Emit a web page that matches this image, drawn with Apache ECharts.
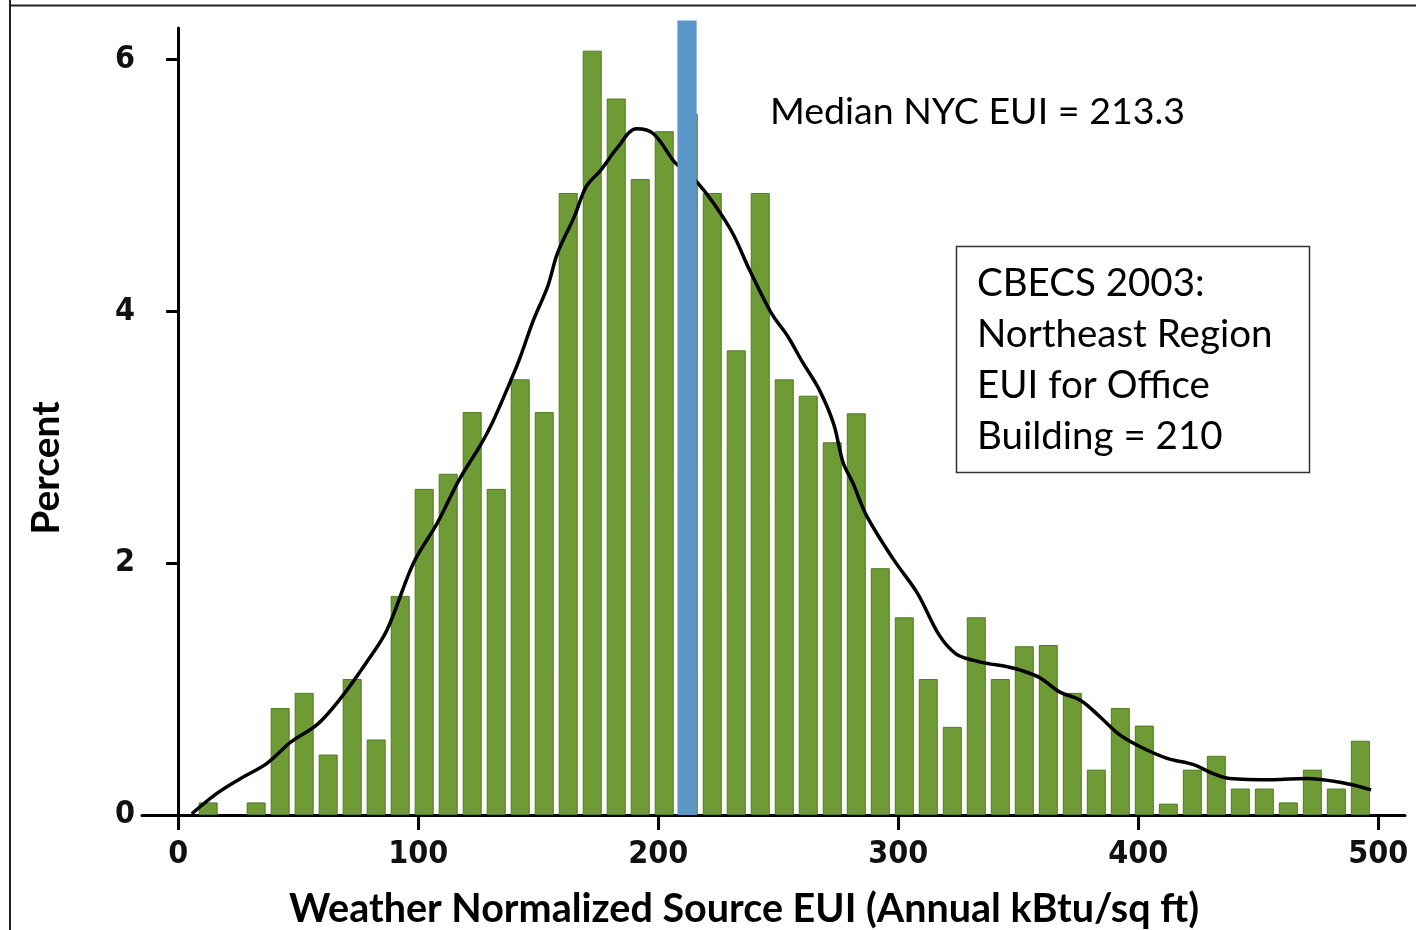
<!DOCTYPE html>
<html lang="en">

<head>
    <meta charset="UTF-8">
    <title>Weather Normalized Source EUI</title>
    <script src="https://cdn.jsdelivr.net/npm/echarts@6.0.0/dist/echarts.min.js"></script>
    <style>
        html, body { margin: 0; padding: 0; background: #fff; }
        #chart { width: 1416px; height: 930px; }
    </style>
</head>

<body>
    <div id="chart"></div>

    <script>
        // histogram bins (bar centres, kBtu/sq ft) and their share of buildings (%)
        const binCenters = [12.5, 22.5, 32.5, 42.5, 52.5, 62.5, 72.5, 82.5, 92.5, 102.5,
            112.5, 122.5, 132.5, 142.5, 152.5, 162.5, 172.5, 182.5, 192.5, 202.5,
            212.5, 222.5, 232.5, 242.5, 252.5, 262.5, 272.5, 282.5, 292.5, 302.5,
            312.5, 322.5, 332.5, 342.5, 352.5, 362.5, 372.5, 382.5, 392.5, 402.5,
            412.5, 422.5, 432.5, 442.5, 452.5, 462.5, 472.5, 482.5, 492.5];
        const binPercent = [0.10, 0, 0.10, 0.85, 0.97, 0.48, 1.08, 0.60, 1.74, 2.59,
            2.71, 3.20, 2.59, 3.46, 3.20, 4.94, 6.07, 5.69, 5.05, 5.43,
            5.57, 4.94, 3.69, 4.94, 3.46, 3.33, 2.96, 3.19, 1.96, 1.57,
            1.08, 0.70, 1.57, 1.08, 1.34, 1.35, 0.97, 0.36, 0.85, 0.71,
            0.09, 0.36, 0.47, 0.21, 0.21, 0.10, 0.36, 0.21, 0.59];

        // smoothed density curve
        const curveX = [5.7, 16, 26, 37, 47, 58, 67, 78, 87, 98, 108, 117, 126, 131, 137, 142, 148, 154,
            158, 165, 170, 176, 183, 191, 198, 207, 211, 216, 223, 231, 238, 247, 254, 260, 267, 273,
            277, 281, 287, 298, 308, 317, 324, 331, 338, 345, 351, 359, 367, 376, 384, 392, 401, 412,
            423, 431, 438, 456, 470, 484, 497];
        const curveY = [0.01, 0.17, 0.29, 0.41, 0.58, 0.72, 0.91, 1.20, 1.47, 2.00, 2.32, 2.66, 2.94, 3.12,
            3.38, 3.61, 3.93, 4.20, 4.46, 4.75, 4.99, 5.12, 5.30, 5.45, 5.41, 5.18, 5.12, 5.03, 4.86,
            4.62, 4.33, 3.99, 3.80, 3.60, 3.38, 3.11, 2.80, 2.64, 2.37, 2.03, 1.76, 1.43, 1.28, 1.23,
            1.20, 1.18, 1.15, 1.09, 0.98, 0.91, 0.78, 0.64, 0.54, 0.45, 0.40, 0.33, 0.29, 0.28, 0.29,
            0.26, 0.20];

        // median NYC EUI marker band
        const medianBand = [208, 216];
        const medianTop = 6.31;

        const xTicks = [0, 100, 200, 300, 400, 500];
        const yTicks = [0, 2, 4, 6];

        const tickFont = "'Liberation Sans Narrow', 'DejaVu Sans Condensed', sans-serif";
        const textFont = "Lato, 'Open Sans', sans-serif";

        let chart = echarts.init(document.getElementById('chart'), null, { renderer: 'canvas' });

        let option = {
            backgroundColor: '#fff',
            animation: false,
            grid: { left: 142, top: 28, width: 1263, height: 787, containLabel: false, outerBoundsMode: 'none' },
            xAxis: {
                type: 'value',
                min: -15.06,
                max: 511.1,
                splitLine: { show: false },
                axisLine: { onZero: false, lineStyle: { color: '#000', width: 3 } },
                axisTick: { customValues: xTicks, length: 15, lineStyle: { color: '#000', width: 3 } },
                axisLabel: {
                    customValues: xTicks, margin: 24, color: '#111',
                    fontFamily: tickFont, fontWeight: 'bold', fontSize: 32
                }
            },
            yAxis: {
                type: 'value',
                min: 0,
                max: 6.25,
                offset: -13,
                splitLine: { show: false },
                axisLine: { lineStyle: { color: '#000', width: 3 } },
                axisTick: { customValues: yTicks, length: 12, lineStyle: { color: '#000', width: 3 } },
                axisLabel: {
                    customValues: yTicks, margin: 20, color: '#111',
                    fontFamily: tickFont, fontWeight: 'bold', fontSize: 32
                }
            },
            series: [
                {
                    type: 'bar',
                    data: binCenters.map((x, i) => [x, binPercent[i] > 0 ? binPercent[i] : '-']),
                    barWidth: 19,
                    itemStyle: { color: '#6e9b36', borderColor: '#4f7b22', borderWidth: 1 },
                    z: 2
                },
                {
                    type: 'line',
                    data: curveX.map((x, i) => [x, curveY[i]]),
                    smooth: 0.35,
                    showSymbol: false,
                    lineStyle: { color: '#000', width: 3.5 },
                    z: 3
                },
                {
                    type: 'custom',
                    clip: false,
                    z: 4,
                    data: [[medianBand[0], medianBand[1], medianTop]],
                    encode: { x: [0, 1], y: 2 },
                    renderItem: function (params, api) {
                        let p0 = api.coord([api.value(0), api.value(2)]);
                        let p1 = api.coord([api.value(1), 0]);
                        return {
                            type: 'rect',
                            shape: { x: p0[0], y: p0[1], width: p1[0] - p0[0], height: p1[1] - p0[1] },
                            style: { fill: '#5b97c9' }
                        };
                    }
                }
            ],
            graphic: [
                { type: 'line', shape: { x1: 10, y1: 0, x2: 10, y2: 930 }, style: { stroke: '#222', lineWidth: 2 } },
                { type: 'line', shape: { x1: 10, y1: 5.5, x2: 1416, y2: 5.5 }, style: { stroke: '#222', lineWidth: 2 } },
                {
                    type: 'text', left: 770, top: 93,
                    style: { text: 'Median NYC EUI = 213.3', font: '37.5px ' + textFont, fill: '#000' }
                },
                {
                    type: 'rect', shape: { x: 956.5, y: 246.5, width: 353, height: 226 },
                    style: { fill: '#fff', stroke: '#333', lineWidth: 1.5 }
                },
                {
                    type: 'text', x: 977, y: 258,
                    style: {
                        text: 'CBECS 2003:\nNortheast Region\nEUI for Office\nBuilding = 210',
                        font: '38.5px ' + textFont, lineHeight: 51, fill: '#000',
                        verticalAlign: 'top'
                    }
                },
                {
                    type: 'text', x: 744, y: 909,
                    style: {
                        text: 'Weather Normalized Source EUI (Annual kBtu/sq ft)',
                        font: 'bold 39.5px ' + textFont, fill: '#000', align: 'center', verticalAlign: 'middle'
                    }
                },
                {
                    type: 'text', x: 46, y: 468, rotation: Math.PI / 2,
                    style: {
                        text: 'Percent', font: 'bold 39px ' + textFont, fill: '#000',
                        align: 'center', verticalAlign: 'middle'
                    }
                }
            ]
        };
        chart.setOption(option);
    </script>
</body>

</html>
